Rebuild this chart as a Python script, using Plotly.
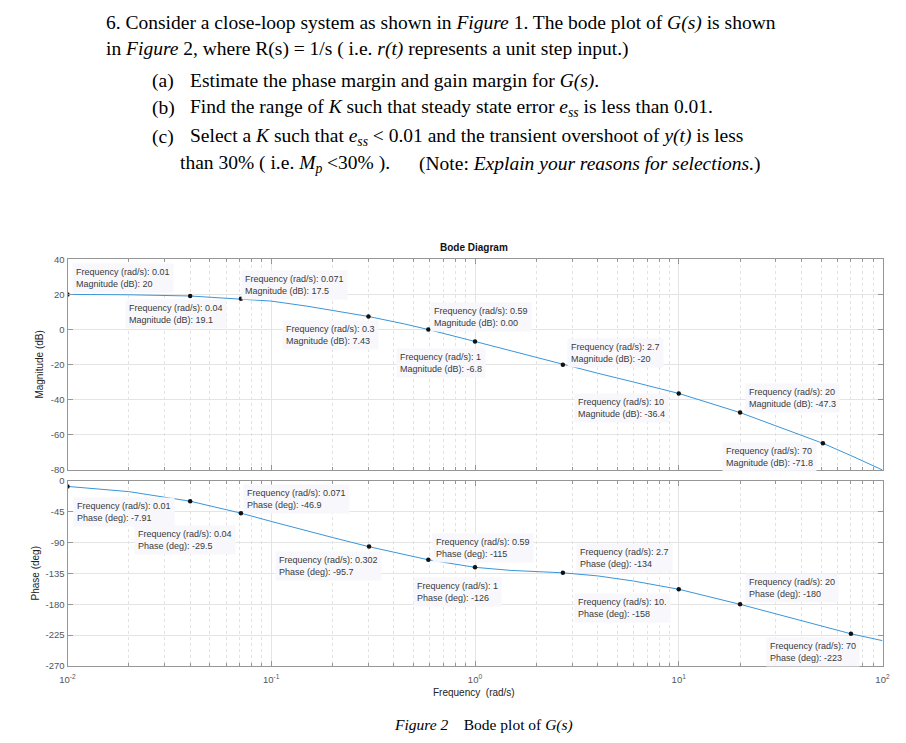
import math
import plotly.graph_objects as go

# ---------------- data ----------------
freq = [0.01, 0.02, 0.04, 0.071, 0.1, 0.15, 0.2, 0.3, 0.45, 0.59, 1, 1.5, 2.7,
        4, 6, 10, 20, 35, 51, 70, 100]
mag_db = [20, 19.8, 19.1, 17.5, 16.2, 13.3, 10.9, 7.43, 3.2, 0.0, -6.8, -12.2, -20,
          -24.9, -29.9, -36.4, -47.3, -57.5, -64.8, -71.8, -80]
phase_deg = [-7.91, -15.5, -29.5, -46.9, -59, -73, -82.5, -95.7, -107.5, -115, -126,
             -130.5, -134, -138.5, -146, -158, -180, -199.5, -212, -223, -233]

# data tips (marker location on curve, and the text shown in the tip)
mag_tip_freq = [0.01, 0.04, 0.071, 0.3, 0.59, 1, 2.7, 10, 20, 51]
mag_tip_db = [20, 19.1, 17.5, 7.43, 0.0, -6.8, -20, -36.4, -47.3, -64.8]
mag_tip_freq_text = ["0.01", "0.04", "0.071", "0.3", "0.59", "1", "2.7", "10", "20", "70"]
mag_tip_db_text = ["20", "19.1", "17.5", "7.43", "0.00", "-6.8", "-20", "-36.4", "-47.3", "-71.8"]

phase_tip_freq = [0.01, 0.04, 0.071, 0.302, 0.59, 1, 2.7, 10, 20, 70]
phase_tip_deg = [-7.91, -29.5, -46.9, -95.7, -115, -126, -134, -158, -180, -223]
phase_tip_freq_text = ["0.01", "0.04", "0.071", "0.302", "0.59", "1", "2.7", "10.", "20", "70"]
phase_tip_deg_text = ["-7.91", "-29.5", "-46.9", "-95.7", "-115", "-126", "-134", "-158", "-180", "-223"]

x_tick_vals = [0.01, 0.1, 1, 10, 100]
x_tick_text = ["10<sup>-2</sup>", "10<sup>-1</sup>", "10<sup>0</sup>", "10<sup>1</sup>", "10<sup>2</sup>"]
mag_tick_vals = [-80, -60, -40, -20, 0, 20, 40]
phase_tick_vals = [-270, -225, -180, -135, -90, -45, 0]

# ---------------- layout helpers ----------------
W, H = 906, 743
def px(xp):
    return xp / W
def py(yp):
    return 1 - yp / H

# pixel offsets of the tip text (left edge, vertical middle) from its marker
mag_tip_dx = [7.5, -62, 3, -83.4, 4.5, -76, 7, -101.5, 7.6, -98]
mag_tip_dy = [-16.9, 18.3, -13.6, 19, -13, 21.5, -12, 14.5, -14.6, 13.3]
phase_tip_dx = [8.2, -53.5, 5.1, -91, 6.7, -59, 16, -101.7, 7.6, -81.6]
phase_tip_dy = [25.8, 38.8, -14.6, 19, -12.3, 24.2, -14.8, 19.1, -16.1, 18]

SANS = "Liberation Sans, Arial, sans-serif"
SERIF = "Liberation Serif, Times New Roman, serif"
AXC = "#969696"
TICKC = "#555555"
BLUE = "#3a95d8"

fig = go.Figure()
fig.add_trace(go.Scatter(x=freq, y=mag_db, mode="lines", line=dict(color=BLUE, width=1),
                         xaxis="x", yaxis="y", hoverinfo="skip"))
fig.add_trace(go.Scatter(x=mag_tip_freq, y=mag_tip_db, mode="markers",
                         marker=dict(color="#111111", size=4.5), xaxis="x", yaxis="y"))
fig.add_trace(go.Scatter(x=freq, y=phase_deg, mode="lines", line=dict(color=BLUE, width=1),
                         xaxis="x2", yaxis="y2", hoverinfo="skip"))
fig.add_trace(go.Scatter(x=phase_tip_freq, y=phase_tip_deg, mode="markers",
                         marker=dict(color="#111111", size=4.5), xaxis="x2", yaxis="y2"))

minor_vals = [m * 10 ** e for e in range(-2, 2) for m in range(2, 10)]
xdom = [px(67.5), px(882.5)]
xcommon = dict(type="log", range=[-2, 2], domain=xdom, showline=True, linecolor=AXC,
               linewidth=1, mirror="ticks", ticks="inside", ticklen=5, tickcolor=AXC,
               tickmode="array", tickvals=x_tick_vals, ticktext=x_tick_text,
               showgrid=True, gridcolor="#e4e4e4", gridwidth=1, zeroline=False,
               automargin=False, ticklabelstandoff=5,
               minor=dict(tickmode="array", tickvals=minor_vals, ticks="inside", ticklen=3,
                          tickcolor=AXC, showgrid=True, gridcolor="#e2e2e2", griddash="dot",
                          gridwidth=1),
               tickfont=dict(family=SANS, size=9.5, color=TICKC))
ycommon = dict(showline=True, linecolor=AXC, linewidth=1, mirror="ticks", ticks="inside",
               ticklen=5, tickcolor=AXC, showgrid=True, gridcolor="#e4e4e4", zeroline=False,
               automargin=False, tickmode="array",
               tickfont=dict(family=SANS, size=9.5, color=TICKC))

fig.update_layout(
    width=W, height=H, margin=dict(l=0, r=0, t=0, b=0, autoexpand=False),
    paper_bgcolor="white", plot_bgcolor="white", showlegend=False,
    xaxis=dict(xcommon, anchor="y", showticklabels=False),
    yaxis=dict(ycommon, domain=[py(470), py(259.3)], range=[-80, 40],
               tickvals=mag_tick_vals, ticktext=[str(v) for v in mag_tick_vals]),
    xaxis2=dict(xcommon, anchor="y2", matches="x", showticklabels=True),
    yaxis2=dict(ycommon, domain=[py(666), py(481)], range=[-270, 0],
                tickvals=phase_tick_vals, ticktext=[str(v) for v in phase_tick_vals]),
)

ann = []
TIPFONT = dict(family=SANS, size=9, color="#3a3a3a")
TIPBG = "rgba(247,247,252,0.95)"
for f, v, ft, vt, dx, dy in zip(mag_tip_freq, mag_tip_db, mag_tip_freq_text, mag_tip_db_text,
                                mag_tip_dx, mag_tip_dy):
    ann.append(dict(x=math.log10(f), y=v, xref="x", yref="y", showarrow=False,
                    text=f"Frequency (rad/s): {ft}<br>Magnitude (dB): {vt}",
                    xanchor="left", yanchor="middle", align="left",
                    xshift=dx - 3, yshift=-dy, bgcolor=TIPBG, borderpad=3, font=TIPFONT))
for f, v, ft, vt, dx, dy in zip(phase_tip_freq, phase_tip_deg, phase_tip_freq_text,
                                phase_tip_deg_text, phase_tip_dx, phase_tip_dy):
    ann.append(dict(x=math.log10(f), y=v, xref="x2", yref="y2", showarrow=False,
                    text=f"Frequency (rad/s): {ft}<br>Phase (deg): {vt}",
                    xanchor="left", yanchor="middle", align="left",
                    xshift=dx - 3, yshift=-dy, bgcolor=TIPBG, borderpad=3, font=TIPFONT))

def centered(xp, yp, s, font, angle=0):
    ann.append(dict(x=px(xp), y=py(yp), xref="paper", yref="paper", showarrow=False,
                    xanchor="center", yanchor="middle", text=s, textangle=angle, font=font))

# chart titles
centered(474, 247, "<b>Bode Diagram</b>", dict(family=SANS, size=10, color="#111111"))
centered(474.5, 692, "Frequency  (rad/s)", dict(family=SANS, size=10, color="#222222"))
centered(40, 364.6, "Magnitude (dB)", dict(family=SANS, size=10, color="#222222"), -90)
centered(35, 573.5, "Phase (deg)", dict(family=SANS, size=10, color="#222222"), -90)

# problem text
def line(xp, yp, s, size=19.5):
    ann.append(dict(x=px(xp - 3), y=py(yp), xref="paper", yref="paper", showarrow=False,
                    xanchor="left", yanchor="middle", text=s,
                    font=dict(family=SERIF, size=size, color="#000000")))

line(107, 23, "6. Consider a close-loop system as shown in <i>Figure</i> 1. The bode plot of <i>G(s)</i> is shown")
line(107, 49, "in <i>Figure</i> 2, where R(s) = 1/s ( i.e. <i>r(t)</i> represents a unit step input.)")
line(153, 81, "(a)")
line(191, 81, "Estimate the phase margin and gain margin for <i>G(s)</i>.")
line(153, 108, "(b)")
line(191, 108, "Find the range of <i>K</i> such that steady state error <i>e<sub>ss</sub></i> is less than 0.01.")
line(153, 137, "(c)")
line(191, 137, "Select a <i>K</i> such that <i>e<sub>ss</sub></i> &lt; 0.01 and the transient overshoot of <i>y(t)</i> is less")
line(181, 164, "than 30% ( i.e. <i>M<sub>p</sub></i> &lt;30% ).")
line(420, 164, "(Note: <i>Explain your reasons for selections.</i>)")

centered(484, 725, "<i>Figure 2</i>    Bode plot of <i>G(s)</i>",
         dict(family=SERIF, size=15.5, color="#000000"))

fig.update_layout(annotations=ann)
fig.write_html("out.html", config={"displayModeBar": False},
               post_script="document.body.style.margin='0px';")
